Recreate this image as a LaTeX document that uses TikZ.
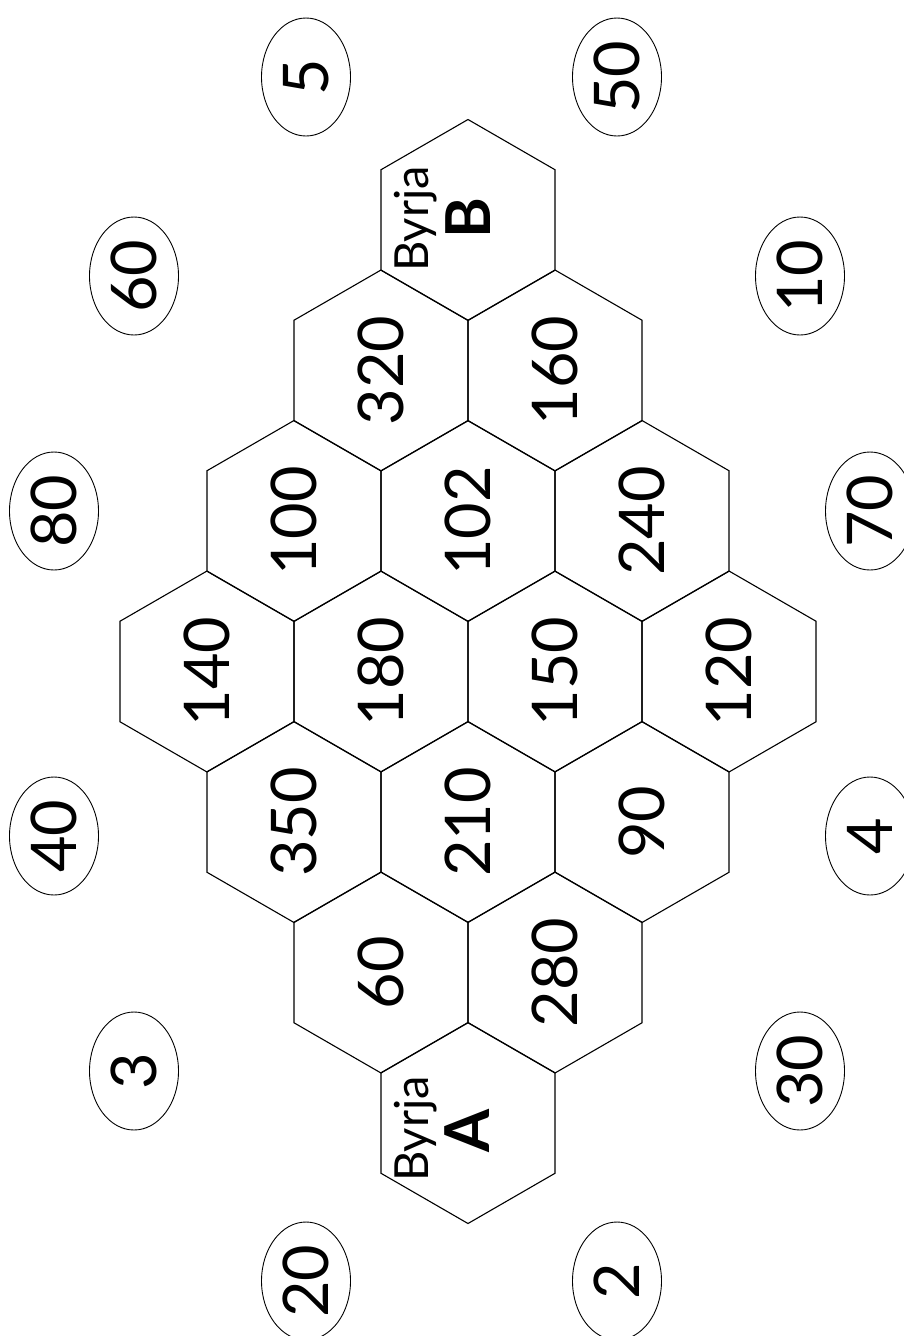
\documentclass[tikz,border=0pt]{standalone}
\usepackage{fontspec}
\setmainfont{Lato}
\usepackage{tikz}
\usetikzlibrary{shapes.geometric,calc}

\newcommand{\numfont}{\fontsize{63}{70}\selectfont}

\begin{document}
\begin{tikzpicture}[
  x=1pt, y=-1pt,
  hexcell/.style={regular polygon, regular polygon sides=6, draw, line width=1.1pt, minimum size=201pt, inner sep=0pt, rotate=90, font=\numfont},
  badge/.style={ellipse, draw, line width=0.9pt, minimum width=118pt, minimum height=89pt, inner sep=0pt, rotate=90, font=\numfont},
  byrja/.style={rotate=90, anchor=base, inner sep=0pt, font=\fontsize{47}{50}\selectfont},
  goal/.style={rotate=90, anchor=base, inner sep=0pt, font=\fontsize{62}{66}\selectfont\bfseries}
]
\useasboundingbox (0,0) rectangle (904,1336);

% honeycomb
\node[hexcell] (hB) at (468,220) {};
\node[hexcell] (h320) at (381,370.5) {320};
\node[hexcell] (h160) at (555,370.5) {160};
\node[hexcell] (h100) at (294,521) {100};
\node[hexcell] (h102) at (468,521) {102};
\node[hexcell] (h240) at (642,521) {240};
\node[hexcell] (h140) at (207,671.5) {140};
\node[hexcell] (h180) at (381,671.5) {180};
\node[hexcell] (h150) at (555,671.5) {150};
\node[hexcell] (h120) at (729,671.5) {120};
\node[hexcell] (h350) at (294,822) {350};
\node[hexcell] (h210) at (468,822) {210};
\node[hexcell] (h90) at (642,822) {90};
\node[hexcell] (h60) at (381,972.5) {60};
\node[hexcell] (h280) at (555,972.5) {280};
\node[hexcell] (hA) at (468,1123) {};

% start cells
\node[byrja] (byrjaB) at ($(hB)+(-40,-1)$) {Byrja};
\node[goal] (markB) at ($(hB)+(22,-2)$) {B};
\node[byrja] (byrjaA) at ($(hA)+(-40,6)$) {Byrja};
\node[goal] (markA) at ($(hA)+(21,8)$) {A};

% outer numbers
\node[badge] (e5) at (306,77) {5};
\node[badge] (e50) at (617,77) {50};
\node[badge] (e60) at (134,276) {60};
\node[badge] (e10) at (800,276) {10};
\node[badge] (e80) at (54,511) {80};
\node[badge] (e70) at (870,511) {70};
\node[badge] (e40) at (54,836) {40};
\node[badge] (e4) at (870,836) {4};
\node[badge] (e3) at (134,1071) {3};
\node[badge] (e30) at (800,1071) {30};
\node[badge] (e20) at (306,1281) {20};
\node[badge] (e2) at (617,1281) {2};
\end{tikzpicture}
\end{document}
